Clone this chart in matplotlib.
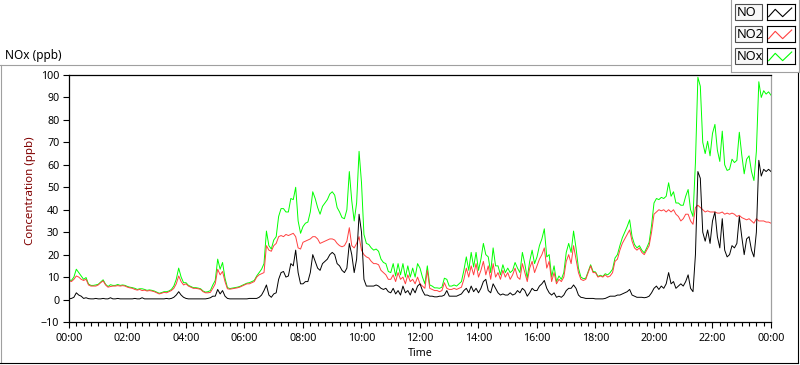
import matplotlib

matplotlib.use("Agg")
import matplotlib.pyplot as plt
import numpy as np
from matplotlib.lines import Line2D
from matplotlib.patches import Rectangle
from matplotlib.ticker import FuncFormatter, MultipleLocator

plt.rcParams["font.family"] = ["Noto Sans", "DejaVu Sans"]

STEP_MIN = 5

# NO readings, one row per hour (5 minute steps), last row ends at 24:00
no_ppb = [
    0.3, 0.5, 1.0, 3.0, 2.0, 1.5, 0.5, 0.8, 0.4, 0.3, 0.3, 0.5,
    0.3, 0.3, 0.5, 0.3, 0.3, 0.8, 0.3, 0.3, 0.5, 0.3, 0.3, 0.3,
    0.3, 0.3, 0.3, 0.5, 0.3, 0.3, 0.8, 0.3, 0.3, 0.3, 0.3, 0.3,
    0.3, 0.3, 0.3, 0.3, 0.5, 0.3, 0.5, 1.0, 2.0, 3.5, 2.0, 1.0,
    0.5, 0.3, 0.3, 0.3, 0.3, 0.3, 0.3, 0.3, 0.3, 0.5, 0.8, 1.5,
    1.5, 4.5, 2.5, 4.0, 1.5, 0.5, 0.3, 0.3, 0.3, 0.3, 0.3, 0.3,
    0.3, 0.3, 0.5, 0.5, 0.5, 0.5, 1.0, 2.0, 4.0, 6.5, 2.0, 1.0,
    2.5, 3.0, 9.0, 12.0, 12.5, 10.0, 10.5, 16.0, 15.0, 22.0, 12.0, 7.0,
    7.0, 8.0, 8.0, 12.0, 20.0, 17.0, 14.0, 13.0, 16.0, 17.0, 18.0, 20.0,
    21.0, 20.0, 16.0, 15.0, 13.0, 12.0, 14.0, 25.0, 20.0, 12.0, 18.0, 38.0,
    30.0, 9.0, 6.0, 6.0, 6.0, 6.0, 6.5, 6.0, 5.0, 4.5, 5.0, 3.5,
    3.0, 5.0, 2.5, 4.0, 2.0, 6.0, 3.0, 4.0, 2.0, 5.0, 3.0, 6.0,
    7.0, 4.0, 2.0, 2.0, 1.5, 1.5, 1.2, 1.2, 1.5, 1.5, 2.0, 4.0,
    1.5, 1.5, 1.5, 1.5, 2.0, 2.5, 4.0, 5.0, 3.0, 6.0, 3.5, 5.0,
    3.0, 5.0, 8.0, 9.0, 4.0, 3.0, 7.0, 5.0, 3.0, 2.0, 2.5, 2.0,
    2.0, 3.0, 2.0, 2.5, 4.0, 3.0, 5.0, 4.0, 1.5, 3.0, 5.0, 4.0,
    4.0, 6.0, 7.0, 8.5, 5.0, 3.0, 2.0, 3.0, 1.0, 1.5, 1.0, 2.0,
    4.0, 5.0, 5.0, 6.5, 5.0, 2.0, 1.0, 0.8, 0.5, 0.5, 0.5, 0.5,
    0.3, 0.3, 0.3, 0.3, 0.5, 1.0, 1.5, 1.5, 1.5, 2.0, 2.0, 2.5,
    3.0, 3.5, 4.5, 2.0, 1.5, 1.0, 1.0, 1.0, 0.8, 1.0, 1.5, 3.0,
    5.0, 6.0, 4.5, 6.0, 5.0, 7.0, 12.0, 7.0, 8.0, 5.0, 6.0, 7.0,
    6.0, 8.0, 11.0, 5.0, 3.5, 20.0, 57.0, 54.0, 30.0, 26.0, 31.0, 25.0,
    35.0, 39.0, 28.0, 23.0, 36.0, 22.0, 19.0, 20.0, 24.0, 23.0, 25.0, 37.0,
    28.0, 20.0, 27.0, 28.0, 22.0, 19.0, 30.0, 62.0, 55.0, 58.0, 57.0, 58.0, 57.0,
]

no2_ppb = [
    8.5, 8.0, 9.0, 10.5, 10.0, 9.0, 8.5, 9.0, 6.5, 6.0, 6.0, 6.0,
    6.5, 7.5, 8.3, 6.5, 5.5, 5.8, 6.0, 6.0, 6.2, 6.0, 6.2, 6.0,
    5.5, 5.2, 5.0, 4.5, 4.2, 4.5, 4.0, 4.2, 3.8, 4.0, 3.8, 3.5,
    3.0, 2.5, 2.8, 3.2, 3.0, 3.5, 4.0, 5.0, 7.0, 10.5, 8.0, 6.5,
    7.0, 6.0, 5.5, 5.0, 5.0, 4.8, 4.5, 3.5, 3.0, 3.0, 3.2, 5.0,
    7.0, 13.5, 11.0, 12.5, 8.0, 4.8, 4.6, 4.8, 5.0, 5.2, 5.5, 6.0,
    6.5, 7.0, 7.0, 7.5, 8.0, 10.0, 11.0, 11.5, 12.0, 24.0, 22.0, 21.5,
    24.0, 25.0, 28.0, 28.5, 28.0, 29.0, 28.5, 29.0, 29.5, 28.0, 23.0, 22.5,
    25.5, 26.0, 26.5, 27.0, 28.0, 28.0, 27.0, 25.0, 25.5, 26.0, 26.5, 27.0,
    27.0, 26.5, 25.0, 24.0, 23.5, 24.0, 26.0, 32.0, 24.0, 23.0, 25.0, 28.0,
    22.0, 20.0, 19.0, 18.5, 17.0, 16.0, 16.0, 15.5, 13.0, 12.0, 11.0, 9.0,
    9.0, 11.0, 8.0, 12.0, 9.0, 10.0, 7.0, 11.0, 8.0, 9.0, 7.0, 10.0,
    7.0, 6.0, 5.0, 13.0, 5.0, 4.5, 4.0, 4.0, 3.5, 4.0, 7.5, 5.0,
    4.5, 4.5, 5.0, 4.5, 5.0, 5.5, 9.0, 14.0, 10.0, 15.0, 11.0, 16.0,
    10.0, 13.0, 17.0, 11.0, 15.0, 9.0, 16.0, 10.0, 12.0, 9.0, 13.0, 10.0,
    12.0, 9.0, 11.0, 14.0, 10.0, 9.0, 16.0, 12.0, 8.0, 14.0, 17.0, 12.0,
    15.0, 18.0, 20.0, 23.0, 14.0, 17.0, 8.0, 12.0, 7.0, 9.0, 8.0, 10.0,
    17.0, 20.0, 16.0, 24.0, 18.0, 12.0, 9.0, 8.5, 9.0, 12.0, 15.0, 12.0,
    12.0, 10.0, 10.5, 10.0, 11.0, 10.0, 10.5, 12.0, 17.0, 18.0, 22.0, 25.0,
    27.0, 29.0, 31.0, 26.0, 23.0, 22.0, 23.0, 21.0, 20.0, 22.0, 24.0, 30.0,
    38.0, 39.0, 40.0, 39.5, 40.0, 39.0, 40.0, 39.0, 40.0, 38.0, 37.0, 35.0,
    36.0, 38.0, 38.0, 35.0, 33.5, 41.0, 42.0, 41.0, 40.0, 39.0, 39.5, 39.0,
    39.0, 39.0, 38.5, 38.5, 39.0, 38.0, 38.5, 38.0, 38.5, 38.0, 37.0, 37.5,
    36.5, 36.0, 35.5, 36.0, 35.0, 34.0, 36.0, 35.0, 35.0, 35.0, 34.5, 34.5, 34.0,
]

series_names = ["NO", "NO2", "NOx"]
series_colors = ["#000000", "#ff4040", "#00ff00"]
y_ticks = list(range(-10, 101, 10))

W, H = 800, 365


def fx(px):
    return px / W


def fy(py):
    return 1 - py / H


def hour_label(value, _pos):
    return f"{int(round(value)) % 24:02d}:00"


no = np.array(no_ppb)
no2 = np.array(no2_ppb)
nox = no + no2
hours = np.arange(len(no)) * STEP_MIN / 60

fig = plt.figure(figsize=(W / 100, H / 100), dpi=100)
ax = fig.add_axes([fx(69), fy(322), fx(771) - fx(69), fy(75) - fy(322)])

# plot 0 sits on top, as in the original front panel
for values, color, z in zip([no, no2, nox], series_colors, [3, 2, 1]):
    ax.plot(hours, values, color=color, lw=0.7, zorder=z)

ax.set_xlim(0, 24)
ax.set_ylim(-10, 100)
ax.set_yticks(y_ticks)
ax.xaxis.set_major_locator(MultipleLocator(2))
ax.xaxis.set_minor_locator(MultipleLocator(0.25))
ax.xaxis.set_major_formatter(FuncFormatter(hour_label))
ax.tick_params(axis="x", which="major", length=4, width=0.8, pad=4, labelsize=7.7)
ax.tick_params(axis="x", which="minor", length=3, width=0.8)
ax.tick_params(axis="y", length=4, width=0.8, pad=3, labelsize=7.7)
for side in ["left", "top", "bottom"]:
    ax.spines[side].set_color("black")
    ax.spines[side].set_linewidth(0.9)
ax.spines["right"].set_color("#a0a0a0")
ax.spines["right"].set_linewidth(0.9)

fig.text(fx(5), fy(55), "NOx (ppb)", fontsize=8.5, va="center", ha="left")
fig.text(fx(31), fy(191), "Concentration (ppb)", fontsize=8.3, rotation=90,
         va="center", ha="center", color="#800000")
fig.text(fx(420), fy(354), "Time", fontsize=7.7, va="center", ha="center")

# sunken frame around the graph and the legend panel
frame = [
    ((0.5, 0.5), (65, 363), "#a0a0a0"),
    ((0, 731), (65, 65), "#a0a0a0"),
    ((0, 798), (363, 363), "black"),
    ((798, 798), (72, 363), "black"),
    ((731, 731), (0, 72), "#a0a0a0"),
    ((731, 800), (72, 72), "#a0a0a0"),
    ((799, 799), (0, 72), "#a0a0a0"),
]
for xs, ys, color in frame:
    fig.add_artist(Line2D([fx(x) for x in xs], [fy(y) for y in ys],
                          color=color, lw=0.8))

for i, (name, color) in enumerate(zip(series_names, series_colors)):
    top = 4 + i * 22
    fig.add_artist(Rectangle((fx(735), fy(top + 16)), fx(27), 16 / H,
                             facecolor="#f8f8f8", edgecolor="#505050", lw=0.8))
    fig.text(fx(736.5), fy(top + 8.5), name, fontsize=9.2, va="center", ha="left")
    box = fig.add_axes([fx(767), fy(top + 16), fx(28), 16 / H])
    box.set_xlim(0, 3.4)
    box.set_ylim(0, 1.2)
    box.plot([0.2, 1.0, 1.9, 3.0], [0.25, 0.8, 0.25, 0.9], color=color, lw=0.8)
    box.set_xticks([])
    box.set_yticks([])
    for spine in box.spines.values():
        spine.set_color("black")
        spine.set_linewidth(0.8)

fig.savefig("out.png", dpi=100)
